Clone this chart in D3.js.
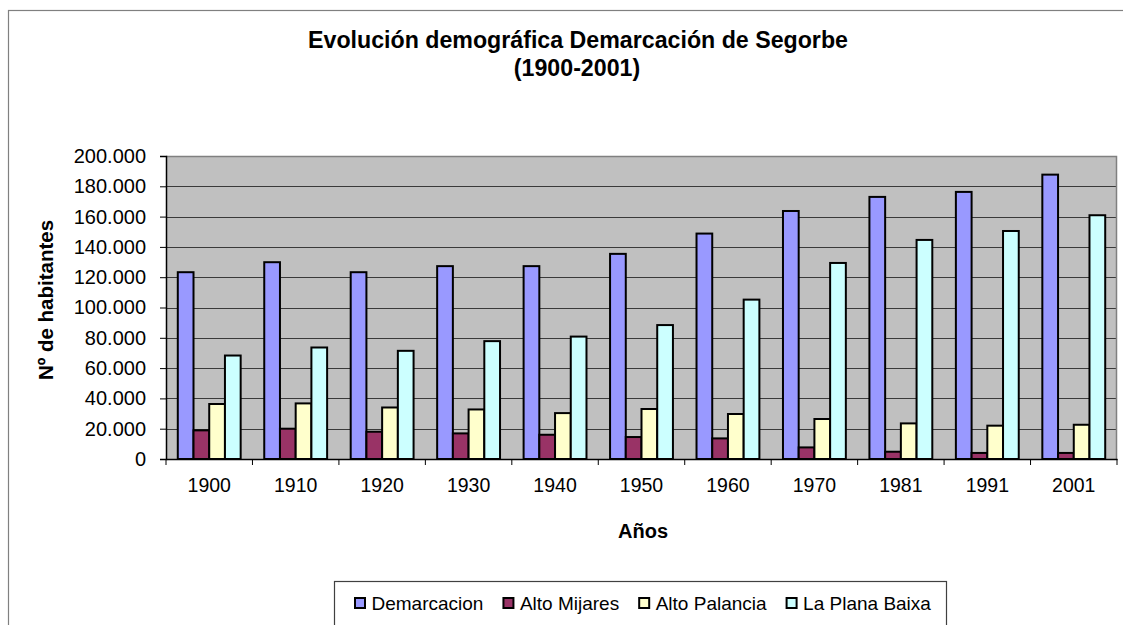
<!DOCTYPE html>
<html>
<head>
<meta charset="utf-8">
<script src="https://cdn.jsdelivr.net/npm/d3@7"></script>
<style>
  html, body { margin: 0; padding: 0; background: #fff; }
  svg { display: block; font-family: "Liberation Sans", Arial, sans-serif; }
</style>
</head>
<body>
<svg id="chart" width="1123" height="625"></svg>
<script>
const years = ["1900","1910","1920","1930","1940","1950","1960","1970","1981","1991","2001"];
const seriesNames = ["Demarcacion","Alto Mijares","Alto Palancia","La Plana Baixa"];
const demarcacion  = [123300,129900,123300,127300,127300,135400,148800,163700,173000,176300,187700];
const altoMijares  = [18900, 20000, 18000, 16900, 16000, 14500, 13600, 7650, 4800, 4000, 4000];
const altoPalancia = [36300, 36700, 34000, 32700, 30300, 33000, 29700, 26400, 23500, 22000, 22600];
const laPlanaBaixa = [68300, 73600, 71400, 77800, 80800, 88400, 105200, 129400, 144600, 150500, 160900];
const yTicks = [0,20000,40000,60000,80000,100000,120000,140000,160000,180000,200000];
const colors = ["#9999FF","#993366","#FFFFCC","#CCFFFF"];

const seriesValues = [demarcacion, altoMijares, altoPalancia, laPlanaBaixa];
const data = years.map((yr, i) => ({year: yr, values: seriesNames.map((s, j) => ({key: s, value: seriesValues[j][i]}))}));

const svg = d3.select("#chart");
const L = 166, R = 1117, T = 156, B = 459;

// outer chart border (extends beyond the visible window)
svg.append("rect").attr("x", 8.5).attr("y", 10.5).attr("width", 1140).attr("height", 700)
  .attr("fill", "#fff").attr("stroke", "#808080").attr("stroke-width", 1.2);

const x0 = d3.scaleBand().domain(years).range([L, R]).paddingInner(0).paddingOuter(0);
const x1 = d3.scaleBand().domain(seriesNames).range([0, x0.bandwidth()]).paddingInner(0).paddingOuter(0.75);
const y = d3.scaleLinear().domain([0, 200000]).range([B, T]);

// plot background
svg.append("rect").attr("x", L).attr("y", T).attr("width", R - L).attr("height", B - T)
  .attr("fill", "#C0C0C0");

// gridlines
svg.append("g").selectAll("line").data(yTicks.filter(d => d > 0 && d < 200000)).join("line")
  .attr("x1", L).attr("x2", R).attr("y1", d => Math.round(y(d)) + 0.5).attr("y2", d => Math.round(y(d)) + 0.5)
  .attr("stroke", "#3a3a3a").attr("stroke-width", 1);

// plot border (top/right gray)
svg.append("path")
  .attr("d", `M${L},${T + 0.5}H${R - 0.5}V${B}`)
  .attr("fill", "none").attr("stroke", "#808080").attr("stroke-width", 1.5);

// bars
const groups = svg.append("g").selectAll("g").data(data).join("g")
  .attr("transform", d => `translate(${x0(d.year)},0)`);
groups.selectAll("rect").data(d => d.values).join("rect")
  .attr("x", d => x1(d.key))
  .attr("y", d => y(d.value))
  .attr("width", x1.bandwidth())
  .attr("height", d => y(0) - y(d.value))
  .attr("fill", (d, i) => colors[i])
  .attr("stroke", "#000").attr("stroke-width", 2);

// y axis
const fmt = d => d3.format(",")(d).replace(/,/g, ".");
const yAxis = svg.append("g").attr("transform", `translate(${L},0)`)
  .call(d3.axisLeft(y).tickValues(yTicks).tickFormat(fmt).tickSize(6).tickPadding(14));
yAxis.select(".domain").attr("stroke", "#000").attr("stroke-width", 1.5);
yAxis.selectAll(".tick line").attr("stroke", "#000");
yAxis.selectAll("text").attr("font-size", 20).attr("fill", "#000")
  .attr("font-family", "Liberation Sans, Arial, sans-serif");

// x axis labels
const xAxis = svg.append("g").attr("transform", `translate(0,${B})`)
  .call(d3.axisBottom(x0).tickSize(0).tickPadding(19));
xAxis.select(".domain").attr("stroke", "#000").attr("stroke-width", 1.5);
xAxis.selectAll("text").attr("font-size", 19.5).attr("fill", "#000")
  .attr("font-family", "Liberation Sans, Arial, sans-serif");
// x boundary ticks
const bounds = years.map(d => x0(d)).concat([x0(years[years.length - 1]) + x0.bandwidth()]);
svg.append("g").selectAll("line").data(bounds).join("line")
  .attr("x1", d => d).attr("x2", d => d).attr("y1", B).attr("y2", B + 6)
  .attr("stroke", "#000").attr("stroke-width", 1);

// titles
const title = svg.append("text").attr("x", 578).attr("text-anchor", "middle")
  .attr("font-size", 23.2).attr("font-weight", "bold").attr("fill", "#000");
title.append("tspan").attr("x", 578).attr("y", 48).text("Evolución demográfica Demarcación de Segorbe");
title.append("tspan").attr("x", 577).attr("y", 76).text("(1900-2001)");

svg.append("text").attr("x", 643).attr("y", 538).attr("text-anchor", "middle")
  .attr("font-size", 20).attr("font-weight", "bold").text("Años");

svg.append("text").attr("transform", "translate(53,300) rotate(-90)").attr("text-anchor", "middle")
  .attr("font-size", 20.5).attr("font-weight", "bold").text("Nº de habitantes");

// legend
svg.append("rect").attr("x", 334.5).attr("y", 581.5).attr("width", 612).attr("height", 80)
  .attr("fill", "#fff").attr("stroke", "#404040").attr("stroke-width", 1.2);
let lx = 355;
seriesNames.forEach((s, i) => {
  const g = svg.append("g");
  g.append("rect").attr("x", lx).attr("y", 598).attr("width", 10).attr("height", 10)
    .attr("fill", colors[i]).attr("stroke", "#000").attr("stroke-width", 2);
  const t = g.append("text").attr("x", lx + 16.5).attr("y", 610).attr("font-size", 19).text(s);
  lx = lx + 16.5 + t.node().getComputedTextLength() + 20;
});
</script>
</body>
</html>
